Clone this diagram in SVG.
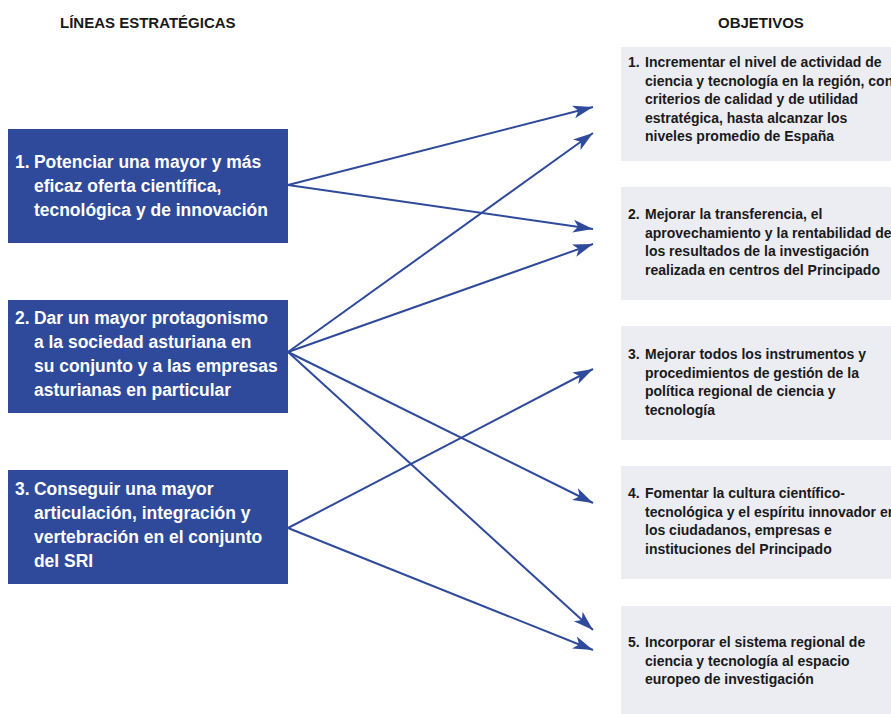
<svg xmlns="http://www.w3.org/2000/svg" width="891" height="714" viewBox="0 0 891 714">
<defs>
<style>
.hdr{font-family:"Liberation Sans",Arial,sans-serif;font-weight:bold;font-size:15px;fill:#1a1a1a}
.lb{fill:#2f4a9a}
.lt{font-family:"Liberation Sans",Arial,sans-serif;font-weight:bold;font-size:19px;fill:#ffffff}
.rb{fill:#ececf3}
.rt{font-family:"Liberation Sans",Arial,sans-serif;font-weight:bold;font-size:14px;fill:#1a1a1a}
.cn{stroke:#2f4a9a;stroke-width:2;fill:none;marker-end:url(#ah)}
</style>
<marker id="ah" markerUnits="userSpaceOnUse" markerWidth="24" markerHeight="16" viewBox="-22 -8 24 16" refX="0" refY="0" orient="auto">
<path d="M0,0 L-20,-6.5 L-15,0 L-20,6.5 Z" fill="#2f4a9a"/>
</marker>
</defs>
<rect width="891" height="714" fill="#ffffff"/>
<text class="hdr" x="60" y="28">LÍNEAS ESTRATÉGICAS</text>
<text class="hdr" x="718" y="28">OBJETIVOS</text>

<g id="linea1">
<rect class="lb" x="8" y="129" width="280" height="114"/>
<text class="lt" transform="translate(15 0) scale(0.92 1)"><tspan x="0" y="168">1.</tspan><tspan x="20.6" y="168">Potenciar una mayor y más</tspan><tspan x="20.6" y="192">eficaz oferta científica,</tspan><tspan x="20.6" y="216">tecnológica y de innovación</tspan></text>
</g>
<g id="linea2">
<rect class="lb" x="8" y="300" width="280" height="113"/>
<text class="lt" transform="translate(15 0) scale(0.92 1)"><tspan x="0" y="324">2.</tspan><tspan x="20.6" y="324">Dar un mayor protagonismo</tspan><tspan x="20.6" y="348">a la sociedad asturiana en</tspan><tspan x="20.6" y="372">su conjunto y a las empresas</tspan><tspan x="20.6" y="396">asturianas en particular</tspan></text>
</g>
<g id="linea3">
<rect class="lb" x="8" y="470" width="280" height="114"/>
<text class="lt" transform="translate(15 0) scale(0.92 1)"><tspan x="0" y="495">3.</tspan><tspan x="20.6" y="495">Conseguir una mayor</tspan><tspan x="20.6" y="519">articulación, integración y</tspan><tspan x="20.6" y="543">vertebración en el conjunto</tspan><tspan x="20.6" y="567">del SRI</tspan></text>
</g>

<g id="obj1">
<rect class="rb" x="621" y="47" width="270" height="114"/>
<text class="rt"><tspan x="628" y="67">1.</tspan><tspan x="645" y="67">Incrementar el nivel de actividad de</tspan><tspan x="645" y="85.5">ciencia y tecnología en la región, con</tspan><tspan x="645" y="104">criterios de calidad y de utilidad</tspan><tspan x="645" y="122.5">estratégica, hasta alcanzar los</tspan><tspan x="645" y="141">niveles promedio de España</tspan></text>
</g>
<g id="obj2">
<rect class="rb" x="621" y="187" width="270" height="113"/>
<text class="rt"><tspan x="628" y="219">2.</tspan><tspan x="645" y="219">Mejorar la transferencia, el</tspan><tspan x="645" y="237.5">aprovechamiento y la rentabilidad de</tspan><tspan x="645" y="256">los resultados de la investigación</tspan><tspan x="645" y="274.5">realizada en centros del Principado</tspan></text>
</g>
<g id="obj3">
<rect class="rb" x="621" y="326" width="270" height="114"/>
<text class="rt"><tspan x="628" y="359">3.</tspan><tspan x="645" y="359">Mejorar todos los instrumentos y</tspan><tspan x="645" y="377.5">procedimientos de gestión de la</tspan><tspan x="645" y="396">política regional de ciencia y</tspan><tspan x="645" y="414.5">tecnología</tspan></text>
</g>
<g id="obj4">
<rect class="rb" x="621" y="466" width="270" height="113"/>
<text class="rt"><tspan x="628" y="498">4.</tspan><tspan x="645" y="498">Fomentar la cultura científico-</tspan><tspan x="645" y="516.5">tecnológica y el espíritu innovador en</tspan><tspan x="645" y="535">los ciudadanos, empresas e</tspan><tspan x="645" y="553.5">instituciones del Principado</tspan></text>
</g>
<g id="obj5">
<rect class="rb" x="621" y="606" width="270" height="108"/>
<text class="rt"><tspan x="628" y="647">5.</tspan><tspan x="645" y="647">Incorporar el sistema regional de</tspan><tspan x="645" y="665.5">ciencia y tecnología al espacio</tspan><tspan x="645" y="684">europeo de investigación</tspan></text>
</g>

<g id="connectors">
<line class="cn" x1="288" y1="185" x2="593" y2="107"/>
<line class="cn" x1="288" y1="185" x2="593" y2="229"/>
<line class="cn" x1="288" y1="352" x2="593" y2="133"/>
<line class="cn" x1="288" y1="352" x2="593" y2="244"/>
<line class="cn" x1="288" y1="352" x2="593" y2="503"/>
<line class="cn" x1="288" y1="352" x2="593" y2="630"/>
<line class="cn" x1="288" y1="528" x2="593" y2="369"/>
<line class="cn" x1="288" y1="528" x2="593" y2="650"/>
</g>
</svg>
